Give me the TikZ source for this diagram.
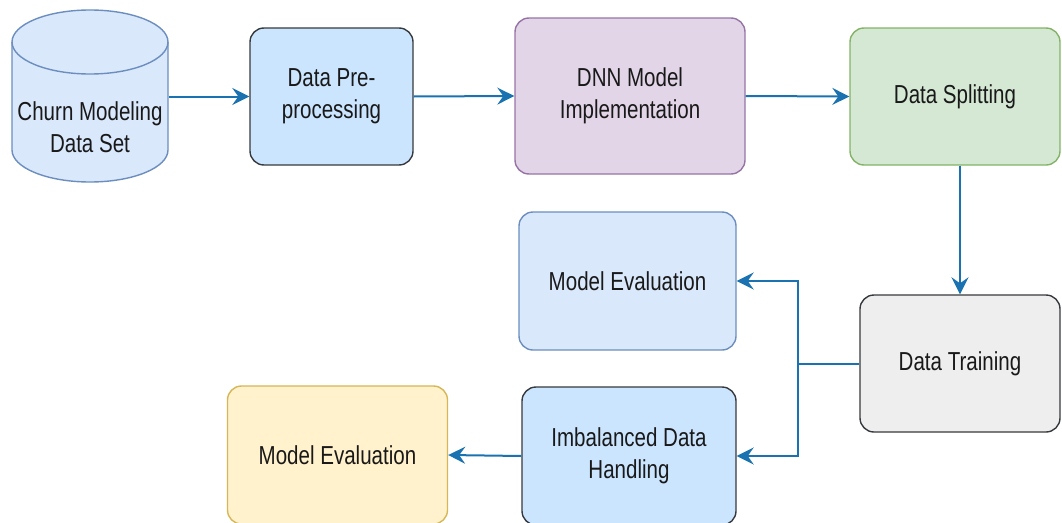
\documentclass[tikz,border=0pt]{standalone}
\usepackage{fontspec}
\setmainfont[FakeStretch=0.79]{Liberation Sans}
\usepackage{tikz}
\usetikzlibrary{positioning}
\usetikzlibrary{arrows.meta}

\definecolor{azulflecha}{HTML}{1A73B0}
\definecolor{azulclaro}{HTML}{DAE8FC}
\definecolor{azulborde}{HTML}{6C8EBF}
\definecolor{celeste}{HTML}{CCE5FF}
\definecolor{grisborde}{HTML}{36393D}
\definecolor{lila}{HTML}{E1D5E7}
\definecolor{lilaborde}{HTML}{9673A6}
\definecolor{verde}{HTML}{D5E8D4}
\definecolor{verdeborde}{HTML}{82B366}
\definecolor{gris}{HTML}{EEEEEE}
\definecolor{amarillo}{HTML}{FFF2CC}
\definecolor{amarilloborde}{HTML}{D6B656}

\begin{document}
\begin{tikzpicture}[x=1pt, y=-1pt,
  every node/.style={line width=1.4pt, align=center,
    inner sep=0pt, text=black!90, font=\fontsize{26}{32}\selectfont},
  caja/.style={rounded corners=14pt},
  flecha/.style={-{Stealth[length=17pt,width=17pt,inset=6pt]}, line width=2pt, draw=azulflecha}]
            \useasboundingbox (0,0) rectangle (1062,522);
            \clip (0,0) rectangle (1062,522);
            % Cilindro
            \filldraw[fill=azulclaro, draw=azulborde, line width=1.4pt]
              (12,42) -- (12,150) arc[start angle=180, end angle=360, x radius=78pt, y radius=32pt]
              -- (168,42) arc[start angle=0, end angle=180, x radius=78pt, y radius=32pt] -- cycle;
            \draw[azulborde, line width=1.4pt] (12,42) arc[start angle=180, end angle=360, x radius=78pt, y radius=32pt];
            % Nodos
            \node[minimum width=156pt, minimum height=173pt] (datos) at (90,96.5) {};
            \node (datostxt) at (90,127) {Churn Modeling\\Data Set};
            \node[caja, draw=grisborde, fill=celeste, minimum width=163pt, minimum height=137pt] (pre) at (331.5,96.5) {Data Pre-\\processing};
            \node[caja, draw=lilaborde, fill=lila, minimum width=230pt, minimum height=156pt] (dnn) at (630,96) {DNN Model\\Implementation};
            \node[caja, draw=verdeborde, fill=verde, minimum width=210pt, minimum height=137pt] (split) at (955,96.5) {Data Splitting};
            \node[caja, draw=grisborde, fill=gris, minimum width=200pt, minimum height=137pt] (train) at (960,363.5) {Data Training};
            \node[caja, draw=azulborde, fill=azulclaro, minimum width=217pt, minimum height=138pt] (evalA) at (627.5,281) {Model Evaluation};
            \node[caja, draw=grisborde, fill=celeste, minimum width=214pt, minimum height=138pt] (imb) at (629,456) {Imbalanced Data\\Handling};
            \node[caja, draw=amarilloborde, fill=amarillo, minimum width=220pt, minimum height=138pt] (evalB) at (337.5,455) {Model Evaluation};
            \coordinate (cruce) at (798,363.5);

            % Aristas
            \draw[flecha] (datos.east) -- (pre.west);
            \draw[flecha] (pre.east) -- (dnn.west);
            \draw[flecha] (dnn.east) -- (split.west);
            \draw[flecha] (train.north |- split.south) -- (train.north);
            \draw[flecha] (train.west) -- (cruce) |- (evalA.east);
            \draw[flecha] (cruce) |- (imb.east);
            \draw[flecha] (imb.west) -- (evalB.east);
          \end{tikzpicture}
\end{document}
